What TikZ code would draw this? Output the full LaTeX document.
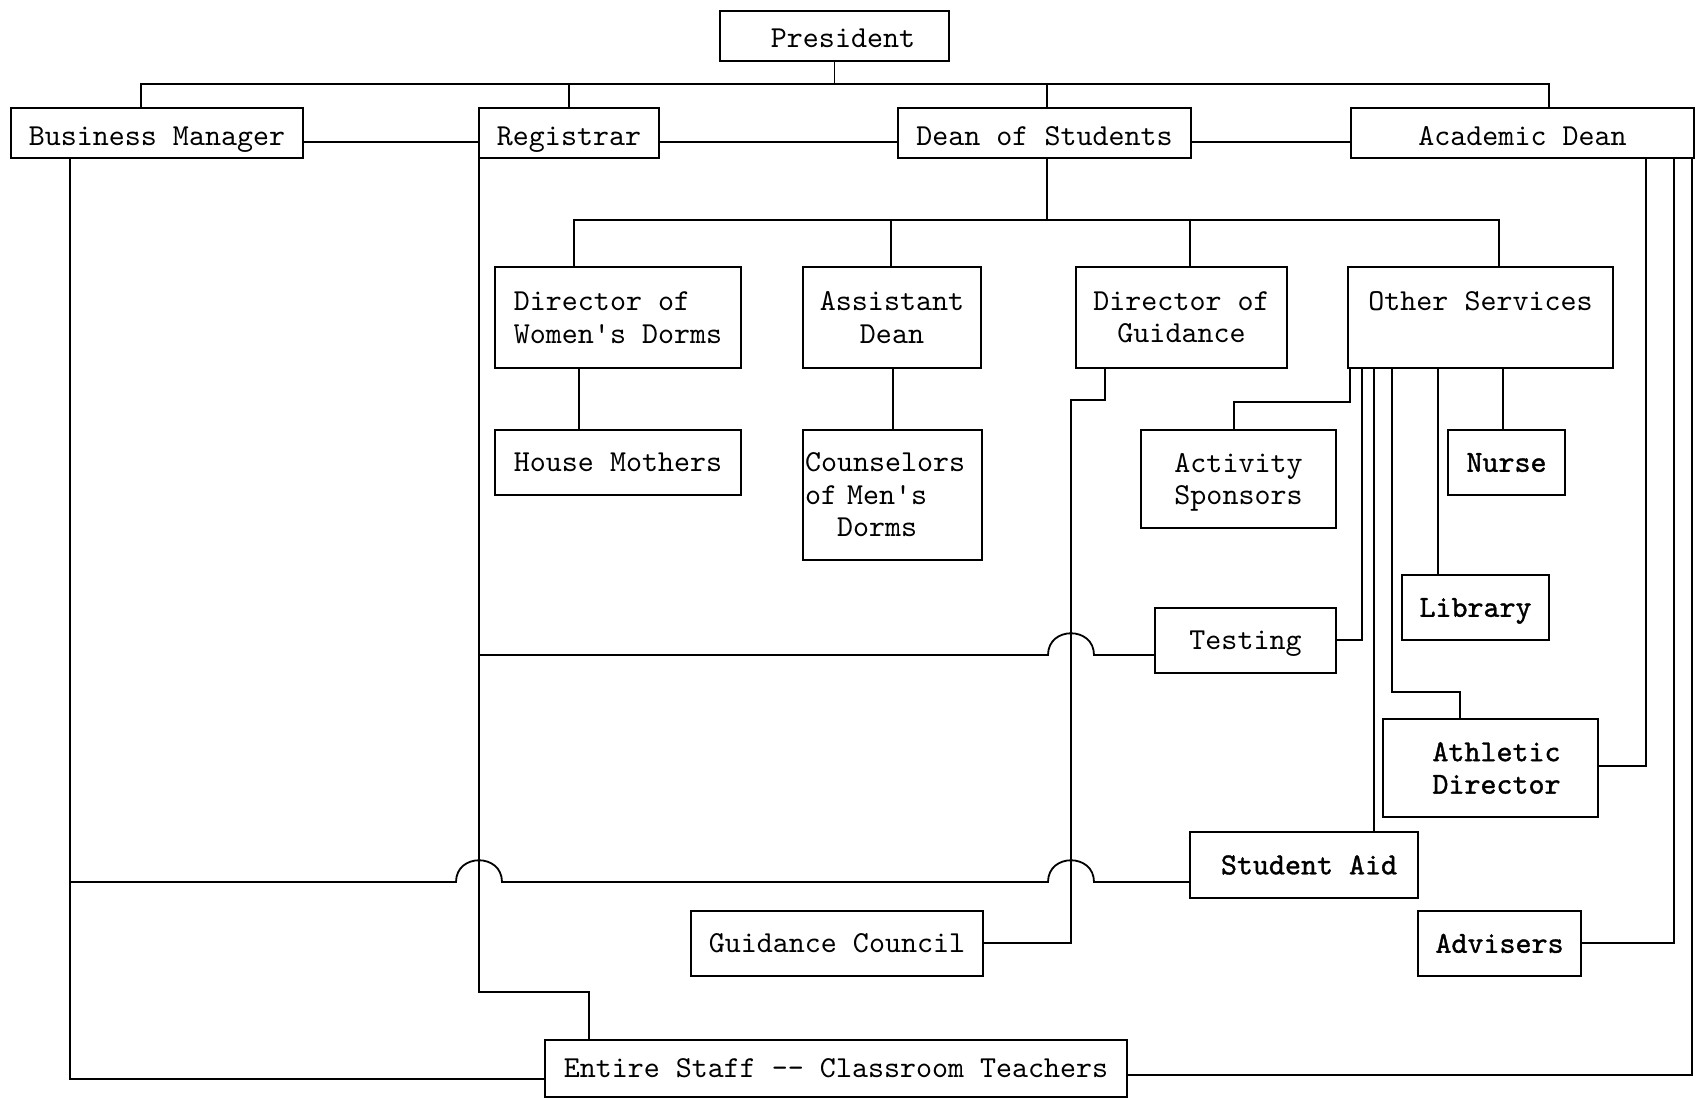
\documentclass[tikz,border=0pt]{standalone}
\usepackage{fontspec}
\setmonofont{lmmono10-regular}[Extension=.otf]
\newfontfamily\twbold{lmmono10-regular}[Extension=.otf, FakeBold=1.2]
\tikzset{
  box/.style={draw, line width=2.2bp, inner sep=2bp, align=center,
    font=\ttfamily\fontsize{30.5bp}{32.5bp}\selectfont},
  heavy/.style={font=\twbold\fontsize{30.5bp}{32.5bp}\selectfont},
  oneline/.style={text height=18.6bp, text depth=0pt},
  topline/.style={text height=25bp, text depth=0pt},
  wire/.style={line width=1.8bp, line join=miter},
}
\begin{document}
\begin{tikzpicture}[x=1bp, y=-1bp]
\fill[white] (0,0) rectangle (1696,1099);
\useasboundingbox (0,0) rectangle (1696,1099);

% top level
\node[box, text height=23bp, text depth=0pt, minimum width=229bp, minimum height=50bp] (pres) at (834.5,36) {\hspace*{17bp}President};
\node[box, topline, minimum width=292bp, minimum height=50bp] (bm) at (157,133) {Business Manager};
\node[box, topline, minimum width=180bp, minimum height=50bp] (reg) at (569,133) {Registrar};
\node[box, topline, minimum width=293bp, minimum height=50bp] (dos) at (1044.5,133) {Dean of Students};
\node[box, topline, minimum width=343bp, minimum height=50bp] (acad) at (1522.5,133) {Academic Dean};

% second level
\node[box, align=left, minimum width=246bp, minimum height=101bp] (dwd) at (618,317.5) {Director of\\Women's Dorms};
\node[box, minimum width=178bp, minimum height=101bp] (asst) at (892,317.5) {Assistant\\Dean};
\node[box, minimum width=211bp, minimum height=101bp] (dg) at (1181.5,317.5) {Director of\\Guidance};
\node[box, minimum width=265bp, minimum height=101bp] (os) at (1480.5,317.5) {Other Services\\\mbox{}};

% third level
\node[box, oneline, minimum width=246bp, minimum height=65bp] (hm) at (618,462.5) {House Mothers};
\node[box, align=left, text width=175bp, inner xsep=2bp, minimum height=130bp] (cmd) at (892.5,495) {Counselors\\of Men's\\\phantom{xx}Dorms};
\node[box, text depth=0pt, minimum width=195bp, minimum height=98bp] (act) at (1238.5,479) {Activity\\Sponsors};
\node[box, heavy, oneline, minimum width=117bp, minimum height=65bp] (nurse) at (1506.5,462.5) {Nurse};
\node[box, heavy, oneline, minimum width=147bp, minimum height=65bp] (lib) at (1475.5,607.5) {Library};
\node[box, oneline, minimum width=181bp, minimum height=65bp] (test) at (1245.5,640.5) {Testing};
\node[box, heavy, minimum width=215bp, minimum height=98bp] (ath) at (1490.5,768) {\hspace*{12bp}Athletic\\\hspace*{12bp}Director};
\node[box, heavy, oneline, minimum width=228bp, minimum height=66bp] (sa) at (1304,865) {\hspace*{10bp}Student Aid};
\node[box, heavy, oneline, minimum width=163bp, minimum height=65bp] (adv) at (1499.5,943.5) {Advisers};
\node[box, oneline, minimum width=292bp, minimum height=65bp] (gc) at (837,943.5) {Guidance Council};
\node[box, oneline, minimum width=582bp, minimum height=57bp] (es) at (836,1068.5) {Entire Staff -- Classroom Teachers};

% president bar
\draw[wire] (pres.south) -- (pres.south |- 0,84);
\draw[wire] (bm.north -| 141,0) -- (141,84) -- (1549,84) -- (acad.north -| 1549,0);
\draw[wire] (reg.north -| 569,0) -- (569,84);
\draw[wire] (dos.north -| 1047,0) -- (1047,84);

% links between top boxes
\draw[wire] (bm.east |- 0,142) -- (reg.west |- 0,142);
\draw[wire] (reg.east |- 0,142) -- (dos.west |- 0,142);
\draw[wire] (dos.east |- 0,142) -- (acad.west |- 0,142);

% dean of students bar
\draw[wire] (dos.south -| 1047,0) -- (1047,220);
\draw[wire] (dwd.north -| 574,0) -- (574,220) -- (1499,220) -- (os.north -| 1499,0);
\draw[wire] (asst.north -| 891,0) -- (891,220);
\draw[wire] (dg.north -| 1190,0) -- (1190,220);

% second to third level
\draw[wire] (dwd.south -| 579,0) -- (hm.north -| 579,0);
\draw[wire] (asst.south -| 893,0) -- (cmd.north -| 893,0);

% other services
\draw[wire] (os.south -| 1350,0) -- (1350,402) -- (1234,402) -- (act.north -| 1234,0);
\draw[wire] (os.south -| 1362,0) -- (1362,640) -- (test.east |- 0,640);
\draw[wire] (os.south -| 1374,0) -- (sa.north -| 1374,0);
\draw[wire] (os.south -| 1392,0) -- (1392,692) -- (1460,692) -- (ath.north -| 1460,0);
\draw[wire] (os.south -| 1438,0) -- (lib.north -| 1438,0);
\draw[wire] (os.south -| 1503,0) -- (nurse.north -| 1503,0);

% academic dean
\draw[wire] (acad.south -| 1646,0) -- (1646,766) -- (ath.east |- 0,766);
\draw[wire] (acad.south -| 1674,0) -- (1674,943) -- (adv.east |- 0,943);
\draw[wire] (acad.south -| 1692,0) -- (1692,1075) -- (es.east |- 0,1075);

% guidance
\draw[wire] (dg.south -| 1105,0) -- (1105,400) -- (1071,400) -- (1071,943) -- (gc.east |- 0,943);

% registrar
\draw[wire] (reg.south -| 479,0) -- (479,992) -- (589,992) -- (es.north -| 589,0);

% business manager
\draw[wire] (bm.south -| 70,0) -- (70,1079) -- (es.west |- 0,1079);

% testing line with hop
\draw[wire] (479,655) -- (1048,655) .. controls (1048,626) and (1094,626) .. (1094,655) -- (test.west |- 0,655);

% student aid line with hops
\draw[wire] (70,882) -- (456,882) .. controls (456,853) and (502,853) .. (502,882)
  -- (1048,882) .. controls (1048,853) and (1094,853) .. (1094,882) -- (sa.west |- 0,882);
\end{tikzpicture}
\end{document}
